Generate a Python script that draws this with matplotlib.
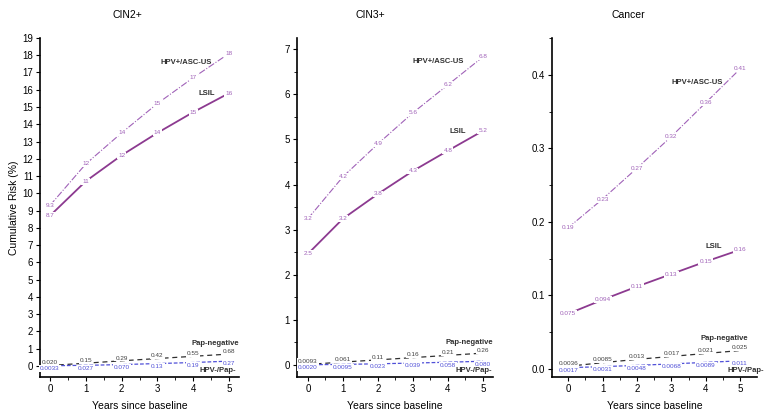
import matplotlib
matplotlib.use("Agg")
import matplotlib.pyplot as plt
from matplotlib.ticker import MultipleLocator

plt.rcParams['font.family'] = ['Liberation Sans', 'DejaVu Sans']

years = [0, 1, 2, 3, 4, 5]
panels = ["CIN2+", "CIN3+", "Cancer"]

# values
cin2_hpv_asc = [9.3, 11.7, 13.5, 15.2, 16.7, 18.1]
cin2_lsil = [8.7, 10.7, 12.2, 13.5, 14.7, 15.8]
cin2_papneg = [0.020, 0.15, 0.29, 0.42, 0.55, 0.68]
cin2_hpvneg = [0.0033, 0.027, 0.070, 0.13, 0.19, 0.27]

cin3_hpv_asc = [3.24, 4.17, 4.9, 5.59, 6.21, 6.83]
cin3_lsil = [2.46, 3.24, 3.79, 4.3, 4.75, 5.19]
cin3_papneg = [0.0093, 0.061, 0.11, 0.16, 0.21, 0.26]
cin3_hpvneg = [0.0020, 0.0095, 0.023, 0.039, 0.058, 0.080]

ca_hpv_asc = [0.192, 0.231, 0.273, 0.316, 0.362, 0.408]
ca_lsil = [0.075, 0.094, 0.112, 0.129, 0.146, 0.162]
ca_papneg = [0.0036, 0.0085, 0.013, 0.017, 0.021, 0.025]
ca_hpvneg = [0.0017, 0.0031, 0.0048, 0.0068, 0.0089, 0.011]

# printed point labels
cin2_hpv_asc_lbl = ["9.3", "12", "14", "15", "17", "18"]
cin2_lsil_lbl = ["8.7", "11", "12", "14", "15", "16"]
cin2_papneg_lbl = ["0.020", "0.15", "0.29", "0.42", "0.55", "0.68"]
cin2_hpvneg_lbl = ["0.0033", "0.027", "0.070", "0.13", "0.19", "0.27"]

cin3_hpv_asc_lbl = ["3.2", "4.2", "4.9", "5.6", "6.2", "6.8"]
cin3_lsil_lbl = ["2.5", "3.2", "3.8", "4.3", "4.8", "5.2"]
cin3_papneg_lbl = ["0.0093", "0.061", "0.11", "0.16", "0.21", "0.26"]
cin3_hpvneg_lbl = ["0.0020", "0.0095", "0.023", "0.039", "0.058", "0.080"]

ca_hpv_asc_lbl = ["0.19", "0.23", "0.27", "0.32", "0.36", "0.41"]
ca_lsil_lbl = ["0.075", "0.094", "0.11", "0.13", "0.15", "0.16"]
ca_papneg_lbl = ["0.0036", "0.0085", "0.013", "0.017", "0.021", "0.025"]
ca_hpvneg_lbl = ["0.0017", "0.0031", "0.0048", "0.0068", "0.0089", "0.011"]

series = [
    (cin2_hpv_asc, cin2_lsil, cin2_papneg, cin2_hpvneg,
     cin2_hpv_asc_lbl, cin2_lsil_lbl, cin2_papneg_lbl, cin2_hpvneg_lbl),
    (cin3_hpv_asc, cin3_lsil, cin3_papneg, cin3_hpvneg,
     cin3_hpv_asc_lbl, cin3_lsil_lbl, cin3_papneg_lbl, cin3_hpvneg_lbl),
    (ca_hpv_asc, ca_lsil, ca_papneg, ca_hpvneg,
     ca_hpv_asc_lbl, ca_lsil_lbl, ca_papneg_lbl, ca_hpvneg_lbl),
]

# layout (figure fractions) and axis settings per panel
ax_rects = [[0.0517, 0.0959, 0.2571, 0.813],
            [0.3837, 0.0959, 0.2533, 0.813],
            [0.7132, 0.0959, 0.2648, 0.813]]
ylims = [(-0.65, 19), (-0.27, 7.25), (-0.011, 0.45)]
xlims = [(-0.28, 5.28), (-0.31, 5.29), (-0.47, 5.49)]
ymajor = [1, 1, 0.1]
yminor = [None, 0.5, 0.05]
title_x = [127, 370, 628]
# series name positions (data coords, right aligned)
name_pos = [
    [(4.52, 17.6), (4.6, 15.8), (5.28, 1.27), (5.2, -0.3)],
    [(4.46, 6.72), (4.51, 5.17), (5.29, 0.49), (5.26, -0.13)],
    [(4.5, 0.39), (4.48, 0.167), (5.23, 0.042), (5.7, -0.0015)],
]
names = ["HPV+/ASC-US", "LSIL", "Pap-negative", "HPV-/Pap-"]

c_asc = "#a062b8"
c_lsil = "#8c3a90"
c_pap = "#303030"
c_neg = "#5050d8"

fig = plt.figure(figsize=(7.74, 4.17), dpi=100)

for i, rect in enumerate(ax_rects):
    ax = fig.add_axes(rect)
    asc, lsil, pap, neg, asc_l, lsil_l, pap_l, neg_l = series[i]

    ax.plot(years, asc, color=c_asc, lw=0.8, ls=(0, (6, 1.5, 1, 1.5)), zorder=2)
    ax.plot(years, lsil, color=c_lsil, lw=1.3, zorder=2)
    ax.plot(years, pap, color=c_pap, lw=0.9, ls=(0, (4, 3)), zorder=2)
    ax.plot(years, neg, color=c_neg, lw=0.9, ls=(0, (3, 1.5)), zorder=2)

    box = dict(boxstyle="square,pad=0.15", fc="white", ec="none")
    for x, y, s in zip(years, asc, asc_l):
        ax.text(x, y, s, fontsize=4.6, color=c_asc, ha="center", va="center",
                bbox=box, zorder=3)
    for x, y, s in zip(years, lsil, lsil_l):
        ax.text(x, y, s, fontsize=4.6, color=c_asc, ha="center", va="center",
                bbox=box, zorder=3)
    for x, y, s in zip(years, pap, pap_l):
        ax.annotate(s, (x, y), xytext=(0, 2), textcoords="offset points",
                    fontsize=4.6, color="#404040", ha="center", va="center",
                    bbox=box, zorder=3)
    for x, y, s in zip(years, neg, neg_l):
        ax.annotate(s, (x, y), xytext=(0, -2), textcoords="offset points",
                    fontsize=4.6, color=c_neg, ha="center", va="center",
                    bbox=box, zorder=3, annotation_clip=False)

    for (nx, ny), nm in zip(name_pos[i], names):
        ax.text(nx, ny, nm, fontsize=5.5, fontweight="bold", color="#303030",
                ha="right", va="center", zorder=4, clip_on=False)

    ax.set_xlim(*xlims[i])
    ax.set_ylim(*ylims[i])
    ax.xaxis.set_major_locator(MultipleLocator(1))
    ax.xaxis.set_minor_locator(MultipleLocator(0.5))
    ax.yaxis.set_major_locator(MultipleLocator(ymajor[i]))
    if yminor[i]:
        ax.yaxis.set_minor_locator(MultipleLocator(yminor[i]))
    ax.spines["top"].set_visible(False)
    ax.spines["right"].set_visible(False)
    ax.spines["left"].set_linewidth(1.2)
    ax.spines["bottom"].set_linewidth(1.2)
    ax.tick_params(which="major", direction="out", length=3, width=0.8,
                   labelsize=7, pad=2)
    ax.tick_params(which="minor", direction="out", length=2, width=0.6)
    ax.set_xlabel("Years since baseline", fontsize=7.5, labelpad=5)
    if i == 0:
        ax.set_ylabel("Cumulative Risk (%)", fontsize=7.5, labelpad=2)
    fig.text(title_x[i] / 774, 1 - 15 / 417, panels[i], fontsize=7.5,
             ha="center", va="center")

fig.savefig("out.png", dpi=100, facecolor="white")
